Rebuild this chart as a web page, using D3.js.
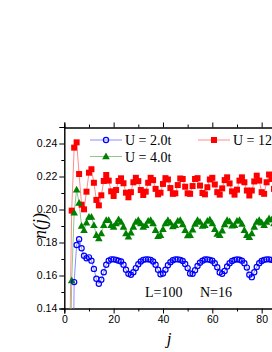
<!DOCTYPE html>
<html><head><meta charset="utf-8">
<script src="https://cdn.jsdelivr.net/npm/d3@7"></script>
<style>html,body{margin:0;padding:0;background:#fff;overflow:hidden}</style>
</head><body>
<script>
const jValues = d3.range(1, 87);
const nU2 = [0.01,0.02,0.04,0.156,0.1785,0.182,0.1765,0.172,0.1705,0.171,0.169,0.164,0.158,0.155,0.1575,0.162,0.1665,0.169,0.1698,0.1698,0.1695,0.169,0.1685,0.1665,0.1635,0.161,0.1605,0.162,0.1645,0.1668,0.1685,0.1695,0.1698,0.1698,0.1695,0.1685,0.1665,0.1635,0.1608,0.1612,0.1635,0.1662,0.168,0.1692,0.1698,0.1698,0.1695,0.1688,0.167,0.1645,0.1612,0.161,0.1632,0.1658,0.1678,0.169,0.1697,0.1698,0.1695,0.169,0.1675,0.165,0.1618,0.161,0.1628,0.1655,0.1675,0.1688,0.1695,0.1698,0.1696,0.169,0.1675,0.1648,0.1605,0.159,0.162,0.1652,0.1675,0.1688,0.1695,0.1698,0.1698,0.1695,0.169,0.1685];
const nU4 = [0.02,0.05,0.157,0.198,0.212,0.204,0.190,0.1875,0.192,0.1955,0.1955,0.1905,0.1845,0.1825,0.1855,0.1905,0.1935,0.1935,0.1905,0.1895,0.1915,0.194,0.1925,0.1895,0.1855,0.1835,0.186,0.1895,0.1925,0.1935,0.1915,0.1895,0.1905,0.193,0.1935,0.1915,0.1875,0.1838,0.1845,0.188,0.1915,0.1935,0.192,0.1898,0.1905,0.193,0.1935,0.191,0.1875,0.1842,0.1845,0.1878,0.1912,0.1935,0.1925,0.19,0.1905,0.193,0.1938,0.1915,0.188,0.1852,0.1845,0.1872,0.191,0.1935,0.1928,0.1902,0.1905,0.193,0.1935,0.1912,0.1875,0.1845,0.1832,0.1855,0.1895,0.1925,0.1935,0.192,0.1905,0.1925,0.1945,0.1938,0.1915,0.19];
const nU12 = [0.02,0.10,0.1993,0.2375,0.2407,0.2215,0.2029,0.2001,0.2108,0.2223,0.2244,0.2162,0.2058,0.2025,0.2086,0.2173,0.2209,0.2175,0.211,0.2082,0.2118,0.2173,0.2189,0.2159,0.2102,0.2074,0.2105,0.2165,0.2192,0.2172,0.2118,0.2088,0.2108,0.2162,0.2192,0.2178,0.2125,0.2092,0.2102,0.2155,0.219,0.2182,0.213,0.2095,0.2098,0.2148,0.2188,0.2185,0.2138,0.2098,0.2095,0.2142,0.2185,0.219,0.2145,0.21,0.2092,0.2135,0.2182,0.2192,0.2152,0.2105,0.209,0.2128,0.2178,0.2195,0.2158,0.211,0.209,0.212,0.2175,0.2195,0.2165,0.2115,0.2085,0.2115,0.217,0.2205,0.2175,0.2105,0.2095,0.2165,0.2212,0.2185,0.2125,0.2145];
const xTicks = [0,20,40,60,80];
const yTicks = [0.14,0.16,0.18,0.20,0.22,0.24];
const seriesNames = ["U = 2.0t","U = 4.0t","U = 12.0t"];

const W = 272, H = 352;
const svg = d3.select("body").append("svg").attr("width", W).attr("height", H);
const x = d3.scaleLinear().domain([0,100]).range([64.3, 311]);
const y = d3.scaleLinear().domain([0.14,0.25]).range([308.5, 127]);

svg.append("clipPath").attr("id","pc").append("rect")
  .attr("x",64.3).attr("y",127).attr("width",260).attr("height",181.5);

const fAxis = "'Liberation Sans', Arial, sans-serif";
const fSerif = "'Liberation Serif', 'Times New Roman', serif";
svg.append("g").attr("transform","translate(64.3,0)")
  .call(d3.axisLeft(y).tickValues(yTicks).tickFormat(d3.format(".2f")).tickSize(5).tickPadding(2));
svg.append("g").attr("transform","translate(64.3,0)")
  .call(d3.axisLeft(y).tickValues(d3.range(0.15,0.25,0.02)).tickFormat("").tickSize(3));
svg.append("g").attr("transform","translate(0,308.5)")
  .call(d3.axisBottom(x).tickValues(xTicks).tickFormat(d3.format("d")).tickSize(5).tickPadding(2));
svg.append("g").attr("transform","translate(0,308.5)")
  .call(d3.axisBottom(x).tickValues(d3.range(10,100,20)).tickFormat("").tickSize(3));
svg.append("g").attr("transform","translate(0,127.5)")
  .call(d3.axisTop(x).tickValues(xTicks).tickFormat("").tickSize(5));
svg.append("g").attr("transform","translate(0,127.5)")
  .call(d3.axisTop(x).tickValues(d3.range(10,100,20)).tickFormat("").tickSize(3));
svg.selectAll(".domain").attr("stroke","#000").attr("stroke-width",1);
svg.selectAll(".tick line").attr("stroke","#000");
svg.selectAll(".tick text").attr("font-family",fAxis).attr("font-size","10.5px").attr("fill","#000");

const plot = svg.append("g").attr("clip-path","url(#pc)");
const line = d3.line().x((d,i)=>x(jValues[i])).y(d=>y(d));

const cfg = [
  {data:nU12, line:"#ff8c8c", mark:"#ff0000", type:"square"},
  {data:nU4, line:"#8cc88c", mark:"#008000", type:"tri"},
  {data:nU2, line:"#8c8cff", mark:"#0000ff", type:"circle"}
];
function marker(g, type, color, cx, cy){
  if(type==="square") g.append("rect").attr("x",cx-3).attr("y",cy-3).attr("width",6).attr("height",6).attr("fill",color);
  else if(type==="tri") g.append("path").attr("d",`M${cx},${cy-4}L${cx+3.8},${cy+2.8}L${cx-3.8},${cy+2.8}Z`).attr("fill",color);
  else g.append("circle").attr("cx",cx).attr("cy",cy).attr("r",2.6).attr("fill","none").attr("stroke",color).attr("stroke-width",1.2);
}
cfg.forEach(c=>{
  plot.append("path").datum(c.data).attr("d",line).attr("fill","none").attr("stroke",c.line).attr("stroke-width",1);
});
cfg.forEach(c=>{
  const g = plot.append("g");
  c.data.forEach((v,i)=>{ if(v>=0.138) marker(g,c.type,c.mark,x(jValues[i]),y(v)); });
});

const leg = svg.append("g").attr("font-family",fSerif).attr("font-size","14px");
const legItems = [
  {name:seriesNames[0], c:cfg[2], lx:90, ly:140},
  {name:seriesNames[2], c:cfg[0], lx:198, ly:140},
  {name:seriesNames[1], c:cfg[1], lx:90, ly:156.5}
];
legItems.forEach(it=>{
  leg.append("line").attr("x1",it.lx).attr("x2",it.lx+32).attr("y1",it.ly).attr("y2",it.ly).attr("stroke",it.c.line).attr("stroke-width",1);
  marker(leg,it.c.type,it.c.mark,it.lx+16,it.ly);
  leg.append("text").attr("x",it.lx+35).attr("y",it.ly+5).text(it.name);
});

svg.append("text").attr("x",145).attr("y",297).attr("font-family",fSerif).attr("font-size","14px").text("L=100");
svg.append("text").attr("x",200).attr("y",297).attr("font-family",fSerif).attr("font-size","14px").text("N=16");

svg.append("text").attr("x",169).attr("y",344).attr("text-anchor","middle").attr("font-family",fSerif).attr("font-style","italic").attr("font-size","17px").text("j");
svg.append("text").attr("transform","translate(46,226) rotate(-90)").attr("text-anchor","middle").attr("font-family",fSerif).attr("font-style","italic").attr("font-size","18px").text("n(j)");
</script>
</body></html>
